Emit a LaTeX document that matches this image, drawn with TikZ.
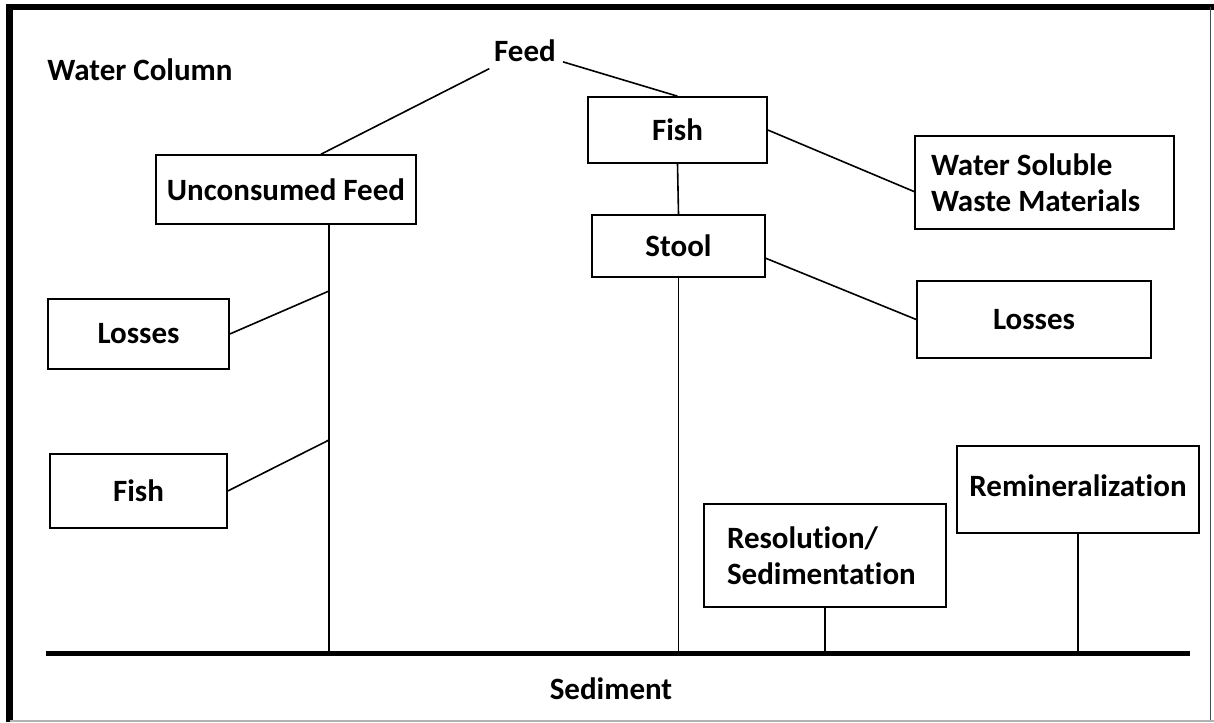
\documentclass[tikz,border=0pt]{standalone}
\usepackage{fontspec}
\setmainfont{Carlito}[Ligatures=NoCommon]
\usetikzlibrary{calc}
\newcommand{\labelfont}{\fontsize{31}{36}\selectfont\bfseries}
\tikzset{
  box/.style={draw, line width=1.6pt, inner sep=6pt, font=\labelfont},
  link/.style={line width=1.6pt},
  tag/.style={font=\labelfont, inner sep=0pt},
}

\begin{document}
\begin{tikzpicture}[x=1pt, y=-1pt]
    \def \bed {653} % level of the sediment line
    \useasboundingbox (0,0) rectangle (1214,722);
    \fill[white] (0,0) rectangle (1214,722);
    % frame
    \draw[line width=6.5pt] (9.5,722) -- (9.5,7) -- (1214,7);
    \draw[line width=1.5pt, black!70] (1210.5,7) -- (1210.5,722);
    \draw[line width=1.5pt, black!30] (9.5,721) -- (1214,721);

    \node[tag] (column) at (140,70) {Water Column};
    \node[tag, inner sep=7pt] (feed) at (525,50.5) {Feed};
    \node[tag] (sediment) at (611,688.5) {Sediment};

    \node[box, minimum width=260pt, minimum height=69pt] (unfed) at (286,189.5) {Unconsumed Feed};
    \node[box, minimum width=181pt, minimum height=70pt] (lossA) at (138.5,334) {Losses};
    \node[box, minimum width=177pt, minimum height=74pt] (fishA) at (138.5,491) {Fish};
    \node[box, minimum width=179pt, minimum height=66pt] (fishB) at (677.5,130) {Fish};
    \node[box, minimum width=173pt, minimum height=62pt] (stool) at (678.5,246) {Stool};
    \node[box, minimum width=259pt, minimum height=93pt, text width=227pt, align=flush left] (waste) at (1044.5,182.5) {Water Soluble\\Waste Materials};
    \node[box, minimum width=234pt, minimum height=77pt] (lossB) at (1034,319.5) {Losses};
    \node[box, minimum width=242pt, minimum height=87pt, text depth=8pt] (remin) at (1078,489.5) {Remineralization};
    \node[box, minimum width=242pt, minimum height=103pt, text width=196pt, align=flush left] (resol) at (825,555.5) {Resolution/\\Sedimentation};

    \coordinate (trunk) at (329,0);
    \coordinate (forkA) at (329,291);
    \coordinate (forkB) at (329,440);
    \coordinate (bedL) at (46,\bed);
    \coordinate (bedR) at (1190,\bed);

    \draw[line width=5pt] (bedL) -- (bedR);
    \draw[link] (feed) -- ($(unfed.north)+(35,0)$);
    \draw[link] (feed) -- (fishB.north);
    \draw[link] (unfed.south -| trunk) -- (trunk |- bedL);
    \draw[link] (lossA.east) -- (forkA);
    \draw[link] (fishA.east) -- (forkB);
    \draw[link] (fishB.south) -- (stool.north);
    \draw[link] (stool.south) -- (stool.south |- bedL);
    \draw[link] (fishB.east) -- (waste.184);
    \draw[link] (stool.-8) -- (lossB.west);
    \draw[link] (resol.south) -- (resol.south |- bedL);
    \draw[link] (remin.south) -- (remin.south |- bedL);
\end{tikzpicture}
\end{document}
